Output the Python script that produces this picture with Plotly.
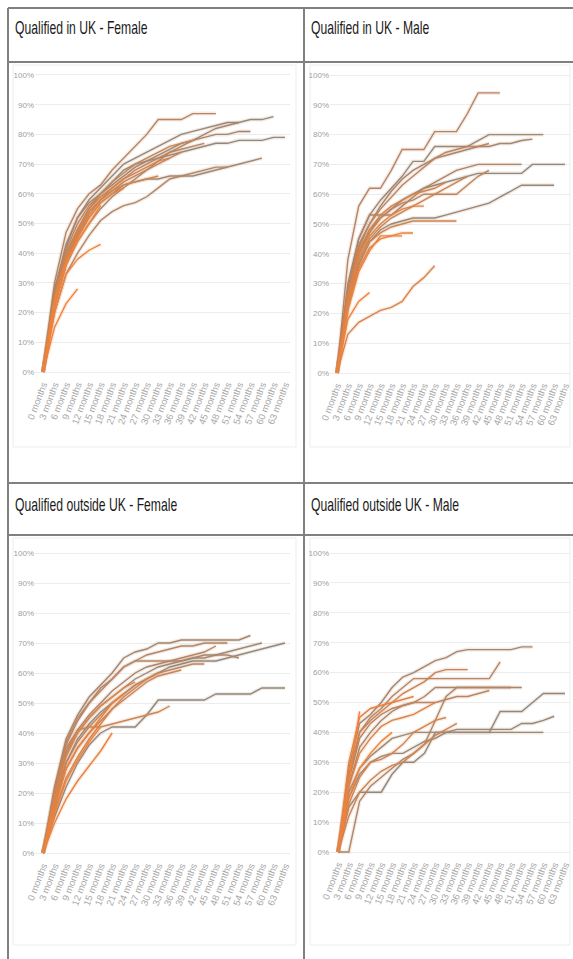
import plotly.graph_objects as go

W, H = 573, 959

months = ["0 months", "3 months", "6 months", "9 months", "12 months", "15 months",
          "18 months", "21 months", "24 months", "27 months", "30 months", "33 months",
          "36 months", "39 months", "42 months", "45 months", "48 months", "51 months",
          "54 months", "57 months", "60 months", "63 months"]

panel_titles = ["Qualified in UK - Female", "Qualified in UK - Male",
                "Qualified outside UK - Female", "Qualified outside UK - Male"]

y_ticks = [0, 10, 20, 30, 40, 50, 60, 70, 80, 90, 100]
y_tick_text = ["0%", "10%", "20%", "30%", "40%", "50%", "60%", "70%", "80%", "90%", "100%"]

# cumulative % per cohort, one list per cohort (older cohorts are longer)
uk_female = [
    [0, 30, 47, 55, 60, 63, 68, 72, 76, 80, 85, 85, 85, 87, 87, 87],
    [0, 28, 42, 52, 58, 62, 66, 70, 72, 74, 76, 78, 80, 81, 82, 83, 84, 84, 85, 85, 86],
    [0, 26, 40, 48, 55, 60, 64, 68, 70, 71, 72, 73, 74, 75, 76, 77, 77, 78, 78, 78, 79, 79],
    [0, 27, 43, 52, 57, 60, 63, 66, 69, 71, 73, 75, 77, 78, 79, 80, 80, 81, 81],
    [0, 25, 38, 46, 52, 57, 60, 63, 64, 65, 65, 66, 66, 66, 67, 68, 69, 70, 71, 72],
    [0, 22, 36, 44, 50, 55, 59, 62, 65, 68, 71, 74, 76, 78, 80, 82, 83, 84],
    [0, 20, 33, 40, 46, 51, 54, 56, 57, 59, 62, 65, 66, 67, 68, 69, 69],
    [0, 24, 38, 47, 54, 58, 62, 65, 68, 70, 72, 74, 75, 76, 77],
    [0, 26, 41, 50, 56, 60, 64, 67, 70, 72, 74, 76, 77, 78],
    [0, 23, 37, 46, 53, 58, 61, 64, 66, 68, 70, 72, 74],
    [0, 25, 39, 48, 55, 59, 62, 65, 67, 69, 71, 72],
    [0, 24, 38, 47, 54, 58, 61, 63, 64, 65, 66],
    [0, 22, 36, 45, 52, 57, 60, 62],
    [0, 24, 37, 44, 50, 56],
    [0, 20, 33, 38, 41, 43],
    [0, 15, 23, 28],
]

uk_male = [
    [0, 38, 56, 62, 62, 68, 75, 75, 75, 81, 81, 81, 87, 94, 94, 94],
    [0, 30, 45, 53, 58, 62, 66, 71, 71, 76, 76, 76, 76, 78, 80, 80, 80, 80, 80, 80],
    [0, 26, 42, 50, 56, 61, 65, 68, 70, 72, 73, 74, 75, 76, 76, 77, 77, 78, 78.5],
    [0, 24, 40, 48, 52, 55, 58, 60, 62, 63, 64, 65, 66, 67, 67, 67, 67, 67, 70, 70, 70, 70],
    [0, 22, 36, 44, 48, 50, 51, 52, 52, 52, 53, 54, 55, 56, 57, 59, 61, 63, 63, 63, 63],
    [0, 28, 45, 53, 53, 53, 56, 59, 62, 64, 66, 68, 69, 70, 70, 70, 70, 70],
    [0, 25, 40, 47, 52, 55, 57, 58, 60, 60, 60, 60, 63, 66, 68],
    [0, 27, 43, 50, 55, 59, 63, 66, 69, 72, 74, 75, 76, 76, 77],
    [0, 24, 38, 45, 49, 52, 54, 56, 58, 60, 62, 64, 66],
    [0, 23, 37, 44, 47, 49, 50, 51, 51, 51, 51, 51],
    [0, 26, 41, 48, 53, 56, 58, 60, 61, 62, 64],
    [0, 13, 17, 19, 21, 22, 24, 29, 32, 36],
    [0, 24, 39, 46, 50, 53, 55, 56, 56],
    [0, 22, 35, 42, 45, 46, 47, 47],
    [0, 21, 34, 41, 46, 46, 46],
    [0, 18, 24, 27],
]

non_uk_female = [
    [0, 22, 38, 46, 52, 56, 60, 65, 67, 68, 70, 70, 71, 71, 71, 71, 71, 71, 72.5],
    [0, 20, 36, 44, 50, 55, 58, 62, 64, 66, 67, 68, 69, 69, 70, 70, 70],
    [0, 18, 33, 40, 45, 49, 52, 55, 58, 60, 62, 63, 64, 65, 66, 66, 67, 68, 69, 70],
    [0, 16, 30, 38, 43, 47, 50, 53, 56, 58, 60, 62, 63, 64, 64, 64, 65, 66, 67, 68, 69, 70],
    [0, 12, 22, 30, 36, 40, 42, 42, 42, 46, 51, 51, 51, 51, 51, 53, 53, 53, 53, 55, 55, 55],
    [0, 19, 34, 41, 46, 50, 54, 57, 60, 62, 63, 64, 64, 65, 65, 66, 66, 65],
    [0, 21, 37, 45, 50, 54, 58, 62, 64, 64, 64, 64, 65, 66, 67, 69],
    [0, 17, 30, 37, 42, 46, 50, 53, 56, 58, 60, 61, 62, 63, 63],
    [0, 15, 28, 35, 40, 44, 48, 51, 54, 57, 59, 60, 61],
    [0, 20, 35, 41, 42, 42, 43, 44, 45, 46, 47, 49],
    [0, 14, 25, 32, 38, 43, 48, 52, 55, 58, 60],
    [0, 18, 32, 40, 45, 49, 52, 55, 57],
    [0, 16, 28, 35, 40, 45, 50, 53],
    [0, 10, 18, 24, 29, 34, 40],
    [0, 13, 24, 31, 37, 42],
]

non_uk_male = [
    [0, 28, 43, 46, 50, 55, 58.5, 60, 62, 64, 65, 67, 67.7, 67.7, 67.7, 67.7, 67.7, 68.6, 68.6],
    [0, 25, 40, 45, 48, 52, 55, 58, 58, 58, 58, 58, 58, 58, 58, 63.6],
    [0, 22, 35, 40, 44, 47, 49, 50, 52, 55, 55, 55, 55, 55, 55, 55, 55, 55],
    [0, 15, 20, 20, 20, 26, 30, 30, 33, 40, 40, 40, 40, 40, 40, 47, 47, 47, 50, 53, 53, 53],
    [0, 18, 26, 30, 32, 33, 33, 35, 37, 38, 40, 41, 41, 41, 41, 41, 41, 43, 43, 44, 45.4],
    [0, 20, 28, 32, 35, 38, 39, 40, 40, 40, 40, 40, 40, 40, 40, 40, 40, 40, 40, 40],
    [0, 24, 38, 43, 46, 48, 49, 50, 50, 50, 51, 52, 52, 53, 54],
    [0, 26, 40, 44, 47, 50, 53, 55, 57, 60, 61, 61, 61],
    [0, 0, 17, 22, 25, 28, 31, 33, 36, 44, 52, 55, 55, 55, 55, 55, 55],
    [0, 22, 33, 38, 42, 44, 45, 46, 48, 50],
    [0, 30, 45, 48, 49, 50, 51, 52],
    [0, 16, 25, 30, 31, 33, 36, 40, 42, 44, 45],
    [0, 12, 20, 24, 27, 29, 30, 33, 36, 39, 41, 43],
    [0, 18, 28, 33, 37, 40],
    [0, 24, 47],
]

panels = [uk_female, uk_male, non_uk_female, non_uk_male]

# pixel geometry of each plot area: (x of first category, x of last category,
# y of 0%, y of 100%, left edge, right edge)
geom = [
    (43, 285, 372, 75, 35, 290),
    (337, 565, 373, 75, 330, 570),
    (43, 285, 853, 553, 35, 290),
    (338, 565, 852, 553, 330, 570),
]

OLD = (150, 134, 120)     # grey-brown for the oldest cohorts
NEW = (240, 130, 58)      # orange for the newest cohorts
Y_FONT = dict(size=8, color="#a0a0a0", family="Liberation Sans, Arial")
X_FONT = dict(size=9.5, color="#a8a8a8", family="Liberation Sans, Arial")


def cohort_colour(n, alpha=1.0):
    t = (22 - n) / 16.0
    t = max(0.0, min(1.0, t))
    c = [round(OLD[k] + (NEW[k] - OLD[k]) * t) for k in range(3)]
    return f"rgba({c[0]},{c[1]},{c[2]},{alpha})"


fig = go.Figure()
layout = {}
for p, (series, g) in enumerate(zip(panels, geom)):
    x0, x1, y0, y100, left, right = g
    step = (x1 - x0) / 21.0
    r_lo = (left - x0) / step
    r_hi = (right - x0) / step
    per = (y0 - y100) / 100.0
    bot_px, top_px = y0 + 1.5 * per, y100 - 1.5 * per
    sfx = "" if p == 0 else str(p + 1)
    xref, yref = "x" + sfx, "y" + sfx
    layout["xaxis" + sfx] = dict(
        domain=[left / W, right / W], range=[r_lo, r_hi], anchor=yref,
        tickmode="array", tickvals=list(range(len(months))), ticktext=months,
        tickangle=-69, tickfont=X_FONT, automargin=False,
        showgrid=False, zeroline=False, showline=False, ticks="", fixedrange=True,
    )
    layout["yaxis" + sfx] = dict(
        domain=[1 - bot_px / H, 1 - top_px / H], range=[-1.5, 101.5], anchor=xref,
        tickmode="array", tickvals=y_ticks, ticktext=y_tick_text, tickfont=Y_FONT,
        automargin=False,
        showgrid=True, gridcolor="#ececec", gridwidth=1, zeroline=False,
        showline=False, ticks="", fixedrange=True,
    )
    for vals in series:
        n = len(vals)
        xs = list(range(n))
        # soft halo under each line
        fig.add_trace(go.Scatter(x=xs, y=vals, mode="lines", xaxis=xref, yaxis=yref,
                                 line=dict(color=cohort_colour(n, 0.16), width=4),
                                 hoverinfo="skip", showlegend=False))
        fig.add_trace(go.Scatter(x=xs, y=vals, mode="lines", xaxis=xref, yaxis=yref,
                                 line=dict(color=cohort_colour(n), width=1.4),
                                 name=months[n - 1], showlegend=False))

shapes = []
BORDER = "#808080"


def hline(y, xa, xb, w=2, col=BORDER):
    shapes.append(dict(type="line", xref="paper", yref="paper",
                       x0=xa / W, x1=xb / W, y0=1 - y / H, y1=1 - y / H,
                       line=dict(color=col, width=w)))


def vline(x, ya, yb, w=2, col=BORDER):
    shapes.append(dict(type="line", xref="paper", yref="paper",
                       x0=x / W, x1=x / W, y0=1 - ya / H, y1=1 - yb / H,
                       line=dict(color=col, width=w)))


def box(xa, ya, xb, yb):
    shapes.append(dict(type="rect", xref="paper", yref="paper",
                       x0=xa / W, x1=xb / W, y0=1 - yb / H, y1=1 - ya / H,
                       line=dict(color="#ededed", width=1), layer="below"))


# table frame
hline(8, 8, 573)
hline(62, 8, 573)
hline(483, 8, 573)
hline(535, 8, 573)
vline(8, 8, 959)
vline(304, 8, 959)

# faint chart-area frames
box(13, 65, 296, 447)
box(310, 65, 570, 447)
box(13, 538, 296, 945)
box(310, 538, 570, 945)

title_pos = [(13, 28), (309, 28), (13, 504), (309, 504)]
annotations = []
for (tx, ty), t in zip(title_pos, panel_titles):
    annotations.append(dict(text=t, x=tx / W, y=1 - ty / H, xref="paper", yref="paper",
                            xanchor="left", yanchor="middle", showarrow=False,
                            font=dict(size=19, color="#1a1a1a",
                                      family="Liberation Sans, Arial")))

fig.update_layout(
    template="none",
    width=W, height=H, margin=dict(l=0, r=0, t=0, b=0, pad=0), autosize=False,
    paper_bgcolor="white", plot_bgcolor="white",
    shapes=shapes, annotations=annotations, showlegend=False,
    **layout,
)

# page without body margin; narrow (condensed) rendering of the panel titles
page_css = """
var css = document.createElement('style');
css.textContent = 'html,body{margin:0;padding:0;overflow:hidden;}' +
  '.annotation-text{transform-box:fill-box;transform-origin:0% 50%;transform:scaleX(0.64);}';
document.head.appendChild(css);
"""

fig.write_html("out.html", config={"displayModeBar": False}, post_script=page_css)
